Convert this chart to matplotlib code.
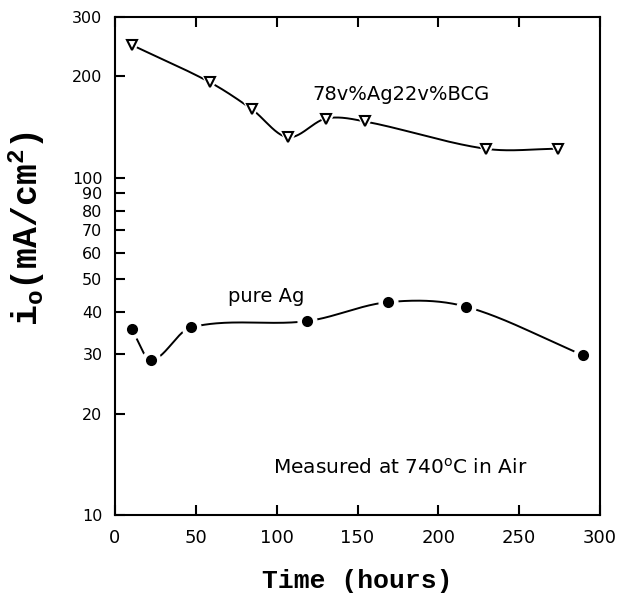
import numpy as np
import matplotlib
matplotlib.use("Agg")
import matplotlib.pyplot as plt
from matplotlib.ticker import FixedLocator, FixedFormatter, NullLocator

# data
hours_ag_bcg = [10.3, 58.8, 84.5, 106.8, 130.5, 154.6, 229.3, 274.2]
io_ag_bcg = [248, 192, 160, 132, 150, 147, 122, 122]

hours_ag = [10.3, 22.3, 46.8, 118.9, 169.0, 217.0, 289.4]
io_ag = [35.6, 28.8, 36.0, 37.6, 42.8, 41.5, 29.8]

yticks = [10, 20, 30, 40, 50, 60, 70, 80, 90, 100, 200, 300]
xticks = [0, 50, 100, 150, 200, 250, 300]


def smooth(x, y, n=60):
    # catmull-rom style hermite curve through the points (log y), for the drawn line
    x = np.asarray(x, float)
    y = np.log10(np.asarray(y, float))
    k = len(x)
    m = np.zeros(k)
    m[0] = (y[1] - y[0]) / (x[1] - x[0])
    m[-1] = (y[-1] - y[-2]) / (x[-1] - x[-2])
    m[1:-1] = (y[2:] - y[:-2]) / (x[2:] - x[:-2])
    xs, ys = [], []
    for i in range(k - 1):
        h = x[i + 1] - x[i]
        t = np.linspace(0, 1, n)
        h00 = 2 * t**3 - 3 * t**2 + 1
        h10 = t**3 - 2 * t**2 + t
        h01 = -2 * t**3 + 3 * t**2
        h11 = t**3 - t**2
        xs.append(x[i] + t * h)
        ys.append(h00 * y[i] + h10 * h * m[i] + h01 * y[i + 1] + h11 * h * m[i + 1])
    return np.concatenate(xs), 10 ** np.concatenate(ys)


fig = plt.figure(figsize=(6.26, 5.93), dpi=100)
ax = fig.add_axes([0.1837, 0.1315, 0.7748, 0.8398])

for hx, hy, mk, fc, ms in [(hours_ag_bcg, io_ag_bcg, "v", "white", 6.5),
                            (hours_ag, io_ag, "o", "black", 6.5)]:
    sx, sy = smooth(hx, hy)
    ax.plot(sx, sy, color="black", lw=1.4, zorder=2)
    # white halo gives the gap around each marker
    ax.plot(hx, hy, ls="none", marker=mk, ms=ms + 7, mfc="white", mec="white", zorder=3)
    ax.plot(hx, hy, ls="none", marker=mk, ms=ms, mfc=fc, mec="black", mew=1.5, zorder=4)

ax.set_yscale("log")
ax.set_xlim(0, 300)
ax.set_ylim(10, 300)
ax.yaxis.set_major_locator(FixedLocator(yticks))
ax.yaxis.set_major_formatter(FixedFormatter([str(v) for v in yticks]))
ax.yaxis.set_minor_locator(NullLocator())
ax.set_xticks(xticks)

for s in ax.spines.values():
    s.set_linewidth(1.5)
ax.tick_params(axis="both", direction="in", length=7, width=1.5, labelsize=11.5,
               top=True, right=False)
ax.tick_params(axis="x", labelsize=13, pad=10)
ax.tick_params(axis="y", pad=9)

ax.text(122, 177, "78v%Ag22v%BCG", fontsize=14, va="center", ha="left")
ax.text(70, 44.4, "pure Ag", fontsize=14, va="center", ha="left")
ax.text(98, 13.8, "Measured at 740$^\\mathregular{o}$C in Air", fontsize=14.5,
        va="center", ha="left")

ax.set_xlabel("Time (hours)", family="Liberation Mono", fontsize=19,
              fontweight="bold", labelpad=16)
ax.set_ylabel("$\\mathregular{i_o(mA/cm^2)}$", family="Liberation Mono",
              fontsize=25, fontweight="bold")
ax.yaxis.set_label_coords(-0.14, 0.576)

fig.savefig("out.png", dpi=100)
